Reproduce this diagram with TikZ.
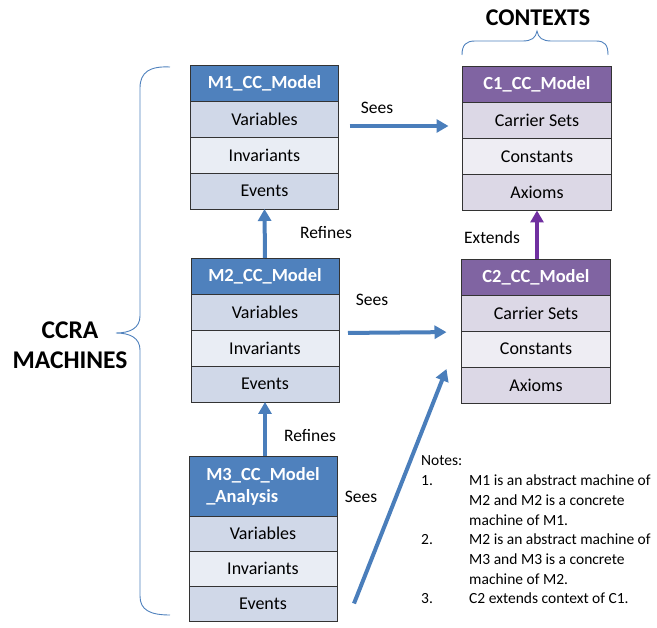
\documentclass[tikz,border=0pt]{standalone}
\usepackage{fontspec}
\setmainfont{Carlito}
\usetikzlibrary{positioning, arrows.meta}
\definecolor{mblue}{HTML}{4F81BD}
\definecolor{mband}{HTML}{D0D8E8}
\definecolor{mlight}{HTML}{E9EDF4}
\definecolor{cpurple}{HTML}{8064A2}
\definecolor{cband}{HTML}{DCD8E6}
\definecolor{clight}{HTML}{EEEDF3}
\definecolor{arrblue}{HTML}{4A7EBB}
\definecolor{arrpurple}{HTML}{7030A0}

\tikzset{
  box/.style={draw=black!80, line width=0.8pt, minimum height=36pt, inner sep=0pt, outer sep=0pt, font=\fontsize{18}{21}\selectfont},
  machhead/.style={box, fill=mblue, text=white, font=\bfseries\fontsize{18.5}{22}\selectfont, minimum width=148pt},
  machrow/.style={box, fill=mband, minimum width=148pt},
  ctxhead/.style={box, fill=cpurple, text=white, font=\bfseries\fontsize{18.5}{22}\selectfont, minimum width=149pt},
  ctxrow/.style={box, fill=cband, minimum width=149pt},
  bluearrow/.style={draw=arrblue, line width=4pt, -{Triangle[length=12pt,width=13pt]}},
  purplearrow/.style={draw=arrpurple, line width=4pt, -{Triangle[length=12pt,width=13pt]}},
  lbl/.style={font=\fontsize{17.5}{20}\selectfont},
  curly/.style={draw=mblue, line width=0.9pt}
}

\begin{document}
\begin{tikzpicture}[x=1pt, y=-1pt]
\useasboundingbox (0,0) rectangle (657,628);
%machines
\node[machhead] (m1h) at (264.5,83) {M1\_CC\_Model};
\node[machrow, below=0pt of m1h] (m1v) {Variables};
\node[machrow, fill=mlight, below=0pt of m1v] (m1i) {Invariants};
\node[machrow, below=0pt of m1i] (m1e) {Events};

\node[machhead] (m2h) at (265,276) {M2\_CC\_Model};
\node[machrow, below=0pt of m2h] (m2v) {Variables};
\node[machrow, fill=mlight, below=0pt of m2v] (m2i) {Invariants};
\node[machrow, below=0pt of m2i] (m2e) {Events};

\node[machhead, minimum height=60pt, align=left] (m3h) at (263,486) {M3\_CC\_Model\\\_Analysis};
\node[machrow, minimum height=35pt, below=0pt of m3h] (m3v) {Variables};
\node[machrow, minimum height=35pt, fill=mlight, below=0pt of m3v] (m3i) {Invariants};
\node[machrow, minimum height=35pt, below=0pt of m3i] (m3e) {Events};

%contexts
\node[ctxhead] (c1h) at (537,84.5) {C1\_CC\_Model};
\node[ctxrow, below=0pt of c1h] (c1s) {Carrier Sets};
\node[ctxrow, fill=clight, below=0pt of c1s] (c1c) {Constants};
\node[ctxrow, below=0pt of c1c] (c1a) {Axioms};

\node[ctxhead] (c2h) at (536,277) {C2\_CC\_Model};
\node[ctxrow, below=0pt of c2h] (c2s) {Carrier Sets};
\node[ctxrow, fill=clight, below=0pt of c2s] (c2c) {Constants};
\node[ctxrow, below=0pt of c2c] (c2a) {Axioms};

%refines / extends
\draw[bluearrow] (m2h.north) -- (m1e.south);
\draw[bluearrow] (m3h.north -| m2e.south) -- (m2e.south);
\draw[purplearrow] (c2h.north -| c1a.south) -- (c1a.south);

%sees
\draw[bluearrow, shorten <=11pt, shorten >=14pt] ([yshift=-7pt]m1v.east) -- ([yshift=-7pt]m1v.east -| c1s.west);
\draw[bluearrow, shorten <=9pt, shorten >=15pt] ([yshift=-3pt]m2i.north east) -- ([yshift=-1pt]c2c.north west);
\draw[bluearrow] ([xshift=17pt]m3e.east) -- ([xshift=-15pt,yshift=-2pt]c2c.south west);

\node[lbl] (sees1) at (377,108) {Sees};
\node[lbl] (sees2) at (372,300) {Sees};
\node[lbl] (sees3) at (361,497) {Sees};
\node[lbl] (ref1) at (326,233) {Refines};
\node[lbl] (ref2) at (310,436) {Refines};
\node[lbl] (ext1) at (492,237) {Extends};

%braces
\draw[curly] (170,67) .. controls (150,66) and (140,72) .. (140,88) -- (140,316)
  .. controls (140,328) and (130,333) .. (116,333) .. controls (130,333) and (140,338) .. (140,350)
  -- (140,596) .. controls (140,610) and (150,615) .. (170,615);
\draw[curly] (462,55) .. controls (462,45) and (466,41) .. (475,41) -- (523,41)
  .. controls (531,41) and (536,38) .. (537,31) .. controls (538,38) and (543,41) .. (551,41)
  -- (596,41) .. controls (605,41) and (608,45) .. (608,55);

\node[font=\bfseries\fontsize{25.5}{30}\selectfont, align=center] (machines) at (70,345) {CCRA\\MACHINES};
\node[font=\bfseries\fontsize{24}{28}\selectfont] (contexts) at (538,18) {CONTEXTS};

%notes
\node[anchor=north west, inner sep=0pt, font=\fontsize{15.5}{19.7}\selectfont] (notes) at (421,452) {%
\begin{tabular}{@{}p{48pt}@{}l@{}}
\multicolumn{2}{@{}l@{}}{Notes:}\\
1. & M1 is an abstract machine of\\
 & M2 and M2 is a concrete\\
 & machine of M1.\\
2. & M2 is an abstract machine of\\
 & M3 and M3 is a concrete\\
 & machine of M2.\\
3. & C2 extends context of C1.
\end{tabular}};
\end{tikzpicture}
\end{document}
